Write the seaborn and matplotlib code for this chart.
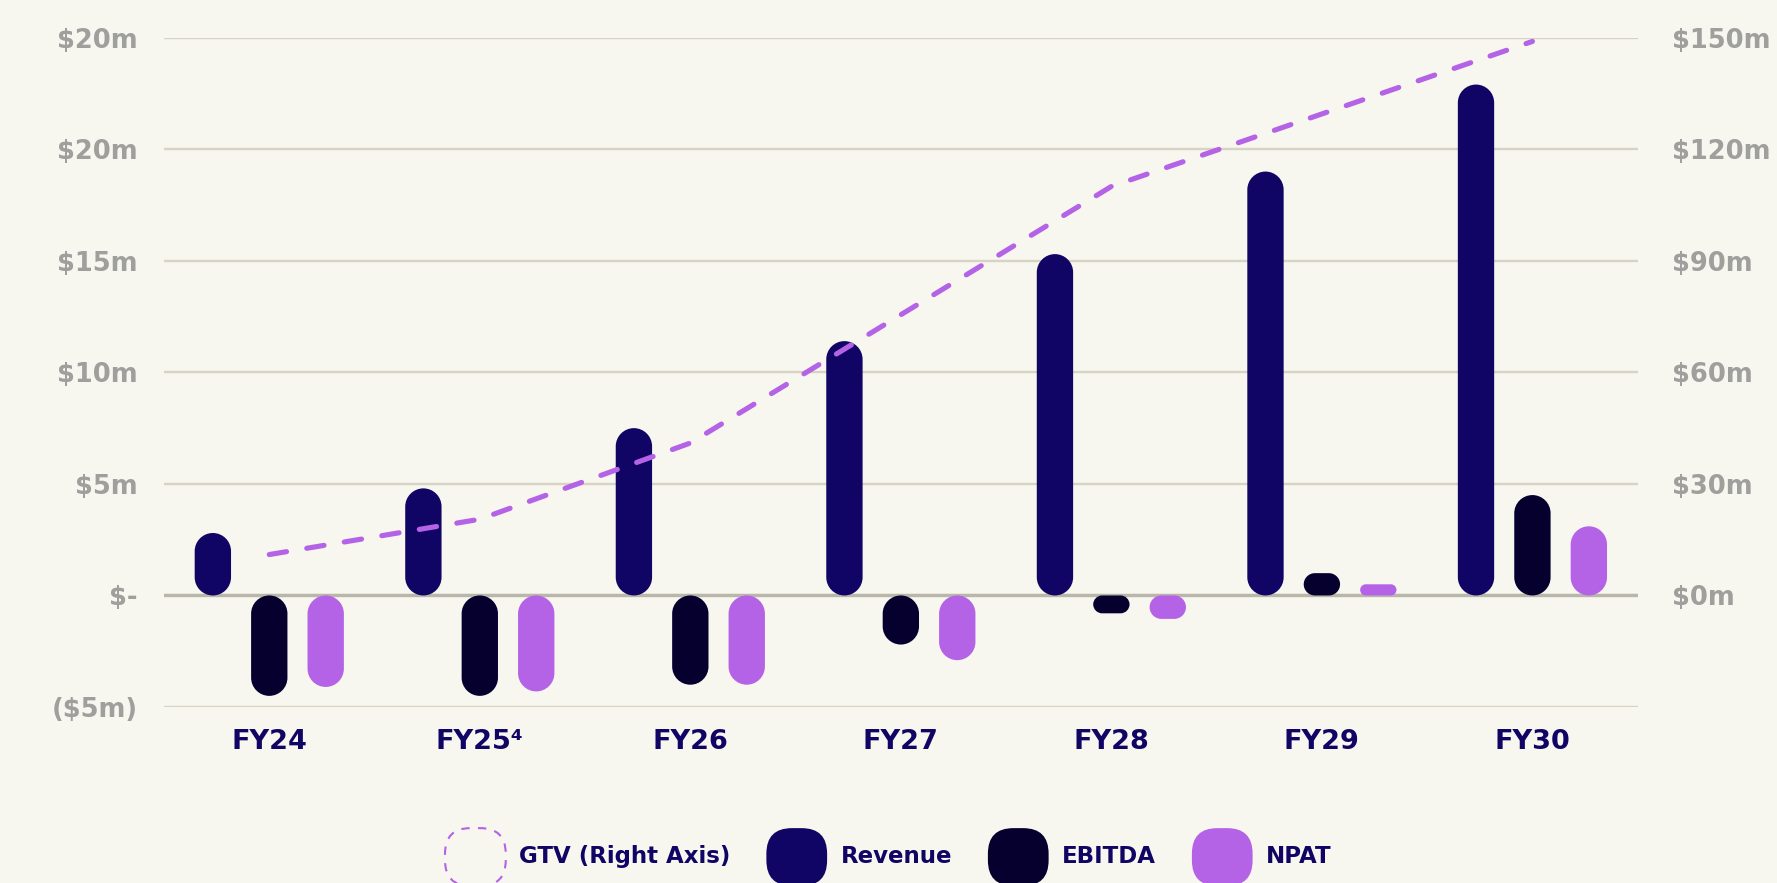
import numpy as np
import pandas as pd
import seaborn as sns
import matplotlib.pyplot as plt
from matplotlib.patches import FancyBboxPatch, Patch, PathPatch
from matplotlib.path import Path
from matplotlib.legend_handler import HandlerBase

# values ($m)
years = ['FY24', 'FY25⁴', 'FY26', 'FY27', 'FY28', 'FY29', 'FY30']
revenue = [2.8, 4.8, 7.5, 11.4, 15.3, 19.0, 22.9]
ebitda = [-4.5, -4.5, -4.0, -2.2, -0.8, 1.0, 4.5]
npat = [-4.1, -4.3, -4.0, -2.9, -1.05, 0.5, 3.1]
gtv = [11, 20.5, 41, 75.5, 110, 129.5, 149]

left_ticks = [-5, 0, 5, 10, 15, 20, 25]
left_labels = ['($5m)', '$-', '$5m', '$10m', '$15m', '$20m', '$20m']
right_ticks = [0, 30, 60, 90, 120, 150]
right_labels = ['$0m', '$30m', '$60m', '$90m', '$120m', '$150m']

series = ['Revenue', 'EBITDA', 'NPAT']
colors = {'Revenue': '#100564', 'EBITDA': '#05002e', 'NPAT': '#b462e6'}
bg = '#f7f6ef'
navy = '#100564'
grey = '#9f9f9d'

df = pd.DataFrame({
    'year': years * 3,
    'value': revenue + ebitda + npat,
    'series': ['Revenue'] * 7 + ['EBITDA'] * 7 + ['NPAT'] * 7,
})

sns.set_style('white', {'axes.facecolor': bg, 'figure.facecolor': bg})
plt.rcParams['font.family'] = 'DejaVu Sans'


def pill(x0, y0, w, h, rx, ry):
    # rounded bar with circular ends (rx, ry = same radius in pixels)
    k = 0.5523
    x1, y1 = x0 + w, y0 + h
    verts = [
        (x0 + rx, y0), (x1 - rx, y0),
        (x1 - rx + k * rx, y0), (x1, y0 + ry - k * ry), (x1, y0 + ry),
        (x1, y1 - ry),
        (x1, y1 - ry + k * ry), (x1 - rx + k * rx, y1), (x1 - rx, y1),
        (x0 + rx, y1),
        (x0 + rx - k * rx, y1), (x0, y1 - ry + k * ry), (x0, y1 - ry),
        (x0, y0 + ry),
        (x0, y0 + ry - k * ry), (x0 + rx - k * rx, y0), (x0 + rx, y0),
        (x0 + rx, y0),
    ]
    codes = [Path.MOVETO, Path.LINETO,
             Path.CURVE4, Path.CURVE4, Path.CURVE4,
             Path.LINETO,
             Path.CURVE4, Path.CURVE4, Path.CURVE4,
             Path.LINETO,
             Path.CURVE4, Path.CURVE4, Path.CURVE4,
             Path.LINETO,
             Path.CURVE4, Path.CURVE4, Path.CURVE4,
             Path.CLOSEPOLY]
    return Path(verts, codes)


fig = plt.figure(figsize=(17.77, 8.83), dpi=100)
ax = fig.add_axes([0.0923, 0.1993, 0.8293, 0.758])

sns.barplot(data=df, x='year', y='value', hue='series', hue_order=series,
            palette=colors, saturation=1, width=0.804, gap=0.356, ax=ax,
            legend=False, errorbar=None)
ax.set_ylim(-5, 25)
ax.set_xlim(-0.5, 6.5)

# turn the square bars into pills
fig.canvas.draw()
bb = ax.get_window_extent()
px_x = bb.width / 7.0
px_y = bb.height / 30.0
bars = [p for p in ax.patches]
for b in bars:
    x0 = b.get_x()
    w = b.get_width()
    y0 = min(b.get_y(), b.get_y() + b.get_height())
    h = abs(b.get_height())
    r_px = min(w * px_x / 2, h * px_y / 2)
    patch = PathPatch(pill(x0, y0, w, h, r_px / px_x, r_px / px_y),
                      facecolor=b.get_facecolor(), edgecolor='none', zorder=3)
    b.remove()
    ax.add_patch(patch)

ax.set_yticks(left_ticks)
ax.set_yticklabels(left_labels)
ax.yaxis.grid(True, color='#d6d4c3', linewidth=1.7)
ax.xaxis.grid(False)
ax.set_axisbelow(True)
ax.axhline(0, color='#b9b7aa', linewidth=2.4, zorder=1)
ax.tick_params(axis='y', length=0, pad=19, labelsize=18.5, labelcolor=grey)
ax.tick_params(axis='x', length=0, pad=16, labelsize=19.5, labelcolor=navy)
for t in ax.get_yticklabels() + ax.get_xticklabels():
    t.set_fontweight('bold')
ax.set_xlabel('')
ax.set_ylabel('')
sns.despine(ax=ax, left=True, bottom=True)

# GTV on the right axis
ax2 = ax.twinx()
sns.lineplot(x=np.arange(len(years)), y=gtv, ax=ax2, color='#b462e6',
             linewidth=3.7, linestyle=(0, (3.4, 4.0)),
             dash_capstyle='round', zorder=5)
ax2.set_ylim(-30, 150)
ax2.set_yticks(right_ticks)
ax2.set_yticklabels(right_labels)
ax2.tick_params(axis='y', length=0, pad=25, labelsize=18.5, labelcolor=grey)
for t in ax2.get_yticklabels():
    t.set_fontweight('bold')
ax2.set_ylabel('')
sns.despine(ax=ax2, left=True, bottom=True, right=True)
ax2.grid(False)


class PillHandler(HandlerBase):
    def create_artists(self, legend, orig_handle, xdescent, ydescent,
                       width, height, fontsize, trans):
        p = FancyBboxPatch((-xdescent, -ydescent), width, height,
                           boxstyle=f'round,pad=0,rounding_size={width * 0.42}',
                           facecolor=orig_handle.get_facecolor(),
                           edgecolor=orig_handle.get_edgecolor(),
                           linestyle=orig_handle.get_linestyle(),
                           linewidth=orig_handle.get_linewidth(),
                           transform=trans)
        return [p]


handles = [Patch(facecolor='none', edgecolor='#b462e6', linestyle=(0, (4, 4)), linewidth=1.5)]
handles += [Patch(facecolor=colors[s], edgecolor='none') for s in series]
labels = ['GTV (Right Axis)'] + series
leg = fig.legend(handles, labels, loc='center', bbox_to_anchor=(0.5, 1 - 857 / 883),
                 ncol=4, frameon=False, prop={'size': 16.5, 'weight': 'bold'},
                 handlelength=2.65, handleheight=3.5, handletextpad=0.6,
                 columnspacing=1.55,
                 handler_map={Patch: PillHandler()})
for t in leg.get_texts():
    t.set_color(navy)

fig.savefig('out.png', dpi=100, facecolor=bg)
